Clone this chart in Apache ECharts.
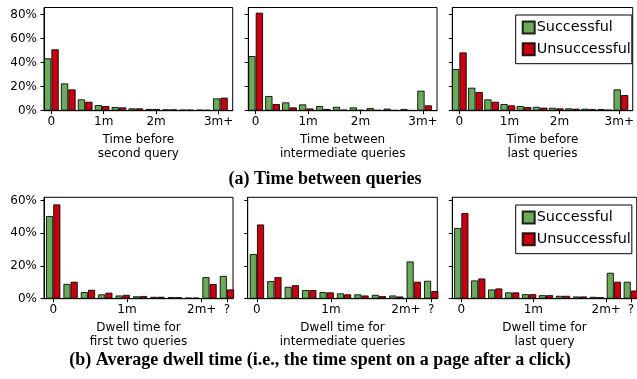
<!DOCTYPE html>
<html><head><meta charset="utf-8">
<script src="https://cdn.jsdelivr.net/npm/echarts@6/dist/echarts.min.js"></script>
<style>html,body{margin:0;padding:0;background:#fff}#c{width:637px;height:379px}</style>
</head><body><div id="c"></div>
<script>
// bins (index of histogram bin)
const bins = [0,1,2,3,4,5,6,7,8,9,10];
const seriesNames = ['Successful','Unsuccessful'];
const topNames = ['Time before\nsecond query','Time between\nintermediate queries','Time before\nlast queries'];
const botNames = ['Dwell time for\nfirst two queries','Dwell time for\nintermediate queries','Dwell time for\nlast query'];
const topTickPos = [0, 3.1, 6.2, 9.9];
const topTickLabels = ['0','1m','2m','3m+'];
const botTickPos = [0, 4.25, 8.55, 10];
const botTickLabels = ['0','1m','2m+','?'];
const topYTicks = [0,20,40,60,80];
const botYTicks = [0,20,40,60];
const titleA = '(a) Time between queries';
const titleB = '(b) Average dwell time (i.e., the time spent on a page after a click)';

// (a) time between queries, % of queries
const secondQSucc = [43.7,22.8,9.5,4.7,3.1,2.0,1.5,1.2,1.0,1.0,10.3];
const secondQUnsu = [51.2,17.8,7.5,3.9,2.8,2.0,1.5,1.2,1.0,0.8,10.9];
const interQSucc  = [45.6,12.3,7.0,5.3,3.9,3.3,2.8,2.2,1.8,1.5,16.7];
const interQUnsu  = [81.7,5.6,2.8,1.9,1.5,1.0,0.8,0.7,0.6,0.5,4.5];
const lastQSucc   = [34.8,19.2,9.5,5.6,3.9,3.3,2.5,2.0,1.7,1.4,17.8];
const lastQUnsu   = [48.6,15.6,7.5,4.5,3.1,2.6,2.0,1.7,1.4,1.0,13.1];
// (b) average dwell time
const dwellFirstSucc = [50.6,9.1,4.1,2.7,2.0,1.5,1.2,1.0,0.7,13.2,14.0];
const dwellFirstUnsu = [57.7,10.4,5.5,3.7,2.4,1.7,1.2,1.0,0.7,9.0,5.7];
const dwellInterSucc = [27.3,10.8,7.3,5.3,4.1,3.3,2.7,2.4,2.0,22.8,11.0];
const dwellInterUnsu = [45.4,13.2,8.3,5.3,3.9,2.7,2.0,1.6,1.4,10.4,4.7];
const dwellLastSucc  = [43.3,11.2,5.7,3.9,2.8,2.2,1.8,1.4,1.2,15.9,10.4];
const dwellLastUnsu  = [52.4,12.4,6.3,3.9,2.8,2.2,1.8,1.4,1.0,10.4,5.0];

const GREEN = '#6aaa58', RED = '#c8000f';
const panels = [
  {succ: secondQSucc, unsu: secondQUnsu, name: topNames[0], row: 0, col: 0},
  {succ: interQSucc,  unsu: interQUnsu,  name: topNames[1], row: 0, col: 1},
  {succ: lastQSucc,   unsu: lastQUnsu,   name: topNames[2], row: 0, col: 2},
  {succ: dwellFirstSucc, unsu: dwellFirstUnsu, name: botNames[0], row: 1, col: 0},
  {succ: dwellInterSucc, unsu: dwellInterUnsu, name: botNames[1], row: 1, col: 1},
  {succ: dwellLastSucc,  unsu: dwellLastUnsu,  name: botNames[2], row: 1, col: 2}
];
const colLeft = [[44, 248.3, 452.3],[44, 247.7, 452.3]];
const colWidth = [[188.7, 188.7, 188.7],[189, 189.6, 189]];
const rowTop = [7.5, 197.3];
const rowHeight = [103.2, 101.4];
const rowXMin = [-0.435, -0.53];
const rowXMax = [10.73, 10.35];
const rowYMax = [86, 62];
const rowBarFrac = [0.44, 0.415]; // bar width as fraction of bin pitch
const FONT = 'DejaVu Sans';

const grid = [], xAxis = [], yAxis = [], series = [];
panels.forEach((p, i) => {
  const r = p.row, c = p.col;
  grid.push({left: colLeft[r][c], top: rowTop[r], width: colWidth[r][c], height: rowHeight[r],
    show: true, borderColor: '#000', borderWidth: 1, backgroundColor: 'transparent', containLabel: false});
  const tp = r === 0 ? topTickPos : botTickPos;
  const tl = r === 0 ? topTickLabels : botTickLabels;
  xAxis.push({type: 'value', gridIndex: i, min: rowXMin[r], max: rowXMax[r],
    name: p.name, nameLocation: 'middle', nameGap: 22,
    nameTextStyle: {fontFamily: FONT, fontSize: 12, color: '#000', lineHeight: 14, verticalAlign: 'top'},
    axisLine: {show: true, onZero: false, lineStyle: {color: '#000', width: 1}},
    axisTick: {show: true, customValues: tp, length: 3.5, lineStyle: {color: '#000'}},
    axisLabel: {customValues: tp, margin: 5, fontFamily: FONT, fontSize: 12, color: '#000',
      formatter: v => { const k = tp.findIndex(t => Math.abs(t - v) < 1e-6); return k >= 0 ? tl[k] : ''; }},
    splitLine: {show: false}});
  const yt = r === 0 ? topYTicks : botYTicks;
  yAxis.push({type: 'value', gridIndex: i, min: 0, max: rowYMax[r],
    axisLine: {show: true, onZero: false, lineStyle: {color: '#000', width: 1}},
    axisTick: {show: true, customValues: yt, length: 3.5, lineStyle: {color: '#000'}},
    axisLabel: {show: c === 0, customValues: yt, margin: 7, fontFamily: FONT, fontSize: 12, color: '#000',
      formatter: v => v + '%'},
    splitLine: {show: false}});
  const pitch = colWidth[r][c] / (rowXMax[r] - rowXMin[r]);
  const bw = pitch * rowBarFrac[r];
  [[p.succ, GREEN, seriesNames[0]], [p.unsu, RED, seriesNames[1]]].forEach(([vals, col, nm]) => {
    series.push({type: 'bar', name: nm, xAxisIndex: i, yAxisIndex: i,
      data: bins.map((b, k) => [b, vals[k]]),
      barWidth: bw, barGap: '0%', clip: true,
      itemStyle: {color: col, borderColor: 'rgba(0,0,0,0.85)', borderWidth: 1},
      emphasis: {disabled: true}, animation: false});
  });
});

const legendBase = {orient: 'vertical', itemWidth: 12, itemHeight: 12, itemGap: 4.7,
  padding: [4, 1, 6, 6], borderColor: '#000', borderWidth: 1, borderRadius: 0,
  backgroundColor: '#fff', icon: 'rect', selectedMode: false, data: seriesNames,
  textStyle: {fontFamily: FONT, fontSize: 14.4, color: '#000', lineHeight: 17, padding: [0, 0, 0, -3]}};

const chart = echarts.init(document.getElementById('c'), null, {renderer: 'canvas'});
chart.setOption({
  animation: false,
  backgroundColor: '#fff',
  title: [
    {text: titleA, left: 325, top: 170, textAlign: 'center', padding: 0,
      textStyle: {fontFamily: 'Liberation Serif', fontWeight: 'bold', fontSize: 18, color: '#000'}},
    {text: titleB, left: 320, top: 351, textAlign: 'center', padding: 0,
      textStyle: {fontFamily: 'Liberation Serif', fontWeight: 'bold', fontSize: 18, color: '#000'}}
  ],
  legend: [
    Object.assign({}, legendBase, {left: 515.7, top: 15}),
    Object.assign({}, legendBase, {left: 515.7, top: 205})
  ],
  grid, xAxis, yAxis, series
});
</script></body></html>
